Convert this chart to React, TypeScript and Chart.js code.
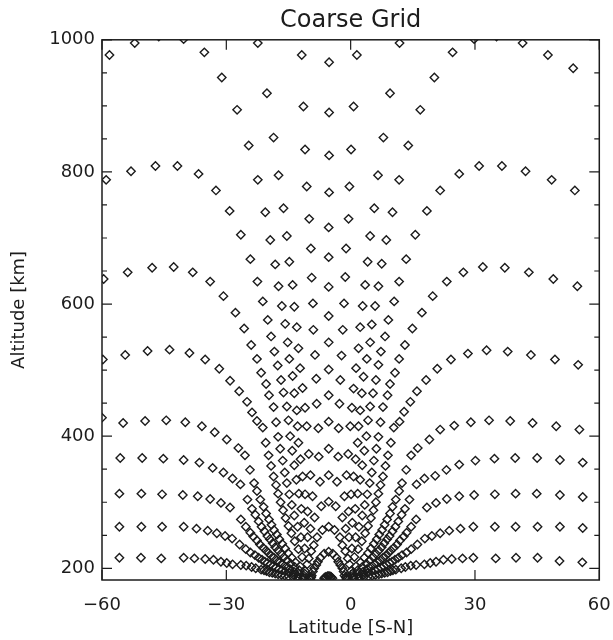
import React, { useEffect, useRef } from 'react';
import { Chart, registerables } from 'chart.js';
Chart.register(...registerables);

// ---- axis ticks ----
const xTicks = [-60, -30, 0, 30, 60];
const yTicks = [200, 400, 600, 800, 1000];
const yMinor = [250, 300, 350, 450, 500, 550, 650, 700, 750, 850, 900, 950];

// ---- grid points [latitude deg, altitude km], read/ ----
// south-side index lines (closest to the magnetic equator first)
const sA2 = [[-11.8,977],[-11.4,899],[-11.0,834],[-10.6,778],[-10.0,729],[-9.6,684],[-9.4,640],[-9.1,601],[-9.0,561],[-8.6,523],[-8.3,487],[-8.2,449],[-7.8,412],[-7.7,369],[-7.4,331],[-7.1,294],[-6.8,258],[-6.4,222],[-5.6,188]];
const sA1 = [[-22.4,995],[-20.2,919],[-18.6,852],[-17.4,795],[-16.2,745],[-15.4,703],[-14.8,664],[-14.0,629],[-13.6,596],[-13.0,565],[-12.6,533],[-12.2,503],[-11.6,473],[-11.0,443],[-10.6,415],[-10.1,373],[-9.7,341],[-9.2,309],[-8.7,277],[-8.1,247],[-7.3,216],[-6.0,187]];
const sA = [[-58.2,977],[-52.1,995],[-46.3,1005],[-40.3,1001],[-35.3,981],[-31.1,943],[-27.4,894],[-24.6,840],[-22.4,788],[-20.6,739],[-19.4,697],[-18.2,660],[-17.4,627],[-16.6,597],[-15.8,570],[-15.2,542],[-14.8,517],[-14.0,491],[-13.6,465],[-13.0,439],[-12.8,415],[-12.6,390],[-12.1,365],[-11.6,339],[-11.0,312],[-10.4,286],[-9.7,260],[-8.9,235],[-7.9,210],[-6.2,186]];
const sB = [[-59.0,788],[-53.0,801],[-47.1,809],[-41.8,809],[-36.7,797],[-32.5,772],[-29.2,741],[-26.5,705],[-24.2,668],[-22.5,634],[-21.2,604],[-20.0,576],[-19.2,551],[-18.4,528],[-17.6,507],[-16.8,485],[-16.2,466],[-15.4,445],[-15.0,424],[-14.6,400],[-14.1,378],[-13.6,356],[-13.1,334],[-12.5,313],[-11.9,290],[-11.2,269],[-10.4,247],[-9.5,226],[-8.3,205],[-6.4,185]];
const sC = [[-59.6,638],[-53.8,648],[-47.9,655],[-42.7,656],[-38.1,648],[-33.9,634],[-30.7,612],[-27.8,587],[-25.7,563],[-24.0,538],[-22.6,517],[-21.6,496],[-20.4,479],[-19.7,462],[-18.6,444],[-18.0,421],[-17.5,399],[-17.0,381],[-16.4,363],[-15.9,345],[-15.4,329],[-14.8,312],[-14.2,296],[-13.6,280],[-12.8,263],[-12.0,247],[-11.1,230],[-10.1,215],[-8.8,200]];
const sD = [[-59.8,516],[-54.4,523],[-49.0,529],[-43.7,531],[-38.9,526],[-35.1,516],[-31.7,502],[-29.1,484],[-26.9,468],[-25.0,452],[-23.8,436],[-22.6,423],[-21.2,413],[-20.5,390],[-19.8,371],[-19.2,355],[-18.6,339],[-18.0,326],[-17.5,313],[-16.9,300],[-16.3,288],[-15.7,276],[-15.0,264],[-14.3,253],[-13.5,241],[-12.6,229],[-11.7,217],[-10.5,206],[-9.1,195]];
const sE = [[-60.0,428],[-54.9,420],[-49.6,423],[-44.5,424],[-39.9,421],[-35.9,415],[-32.8,406],[-29.9,395],[-27.1,382],[-25.5,371],[-24.3,349],[-23.3,329],[-22.6,317],[-21.8,304],[-21.0,293],[-20.4,283],[-19.7,274],[-19.1,266],[-18.5,258],[-17.8,251],[-17.2,244],[-16.5,237],[-15.8,230],[-15.1,223],[-14.2,216],[-13.3,209],[-12.2,203],[-11.0,196],[-9.4,189]];
const sF = [[-55.6,367],[-50.3,367],[-45.2,366],[-40.3,364],[-36.5,360],[-33.3,352],[-30.7,345],[-28.5,336],[-26.6,327],[-24.9,304],[-23.8,290],[-23.0,281],[-22.2,271],[-21.5,263],[-20.8,256],[-20.1,249],[-19.5,244],[-18.8,238],[-18.2,232],[-17.5,227],[-16.8,222],[-16.1,217],[-15.3,212],[-14.5,207],[-13.5,202],[-12.4,197],[-11.1,192],[-9.5,187]];
const sG = [[-55.8,313],[-50.5,313],[-45.5,312],[-40.5,311],[-36.9,309],[-33.9,305],[-31.3,299],[-29.1,292],[-26.5,274],[-25.3,263],[-24.2,254],[-23.5,248],[-22.6,242],[-21.9,236],[-21.1,231],[-20.4,227],[-19.8,223],[-19.2,219],[-18.5,216],[-17.8,212],[-17.1,209],[-16.4,206],[-15.6,202],[-14.7,199],[-13.7,195],[-12.6,192],[-11.3,189],[-9.6,186]];
const sH = [[-55.8,263],[-50.5,263],[-45.5,263],[-40.3,263],[-37.2,260],[-34.5,257],[-32.3,253],[-30.3,249],[-28.6,245],[-26.8,236],[-25.3,229],[-24.2,224],[-23.1,220],[-22.2,216],[-21.4,213],[-20.7,210],[-20.1,208],[-19.4,206],[-18.7,203],[-18.0,201],[-17.3,199],[-16.6,197],[-15.8,195],[-14.8,193],[-13.8,190],[-12.7,188],[-11.4,186],[-9.7,184]];
const sI = [[-55.8,216],[-50.6,216],[-45.7,215],[-40.3,216],[-37.7,215],[-35.1,214],[-33.1,213],[-31.3,210],[-29.9,208],[-28.5,206],[-26.5,205],[-25.2,204],[-23.9,202],[-22.9,200],[-21.6,198],[-20.9,197],[-20.3,196],[-19.6,194],[-18.9,193],[-18.2,192],[-17.5,191],[-16.7,190],[-15.9,189],[-15.0,188],[-13.9,187],[-12.8,185],[-11.5,184],[-9.8,183]];
// magnetic-equator column (field-line apexes)
const eq = [[-5.2,966],[-5.2,890],[-5.2,825],[-5.2,769],[-5.3,716],[-5.3,671],[-5.3,626],[-5.3,582],[-5.3,542],[-5.3,501],[-5.3,462],[-5.3,422],[-5.3,381],[-5.3,341],[-5.3,301],[-5.3,263],[-5.3,225],[-5.3,188]];
// north-side index lines
const nA2 = [[1.5,977],[0.7,899],[0.1,834],[-0.3,778],[-0.5,729],[-1.1,684],[-1.3,641],[-1.6,601],[-1.9,561],[-2.2,522],[-2.5,485],[-2.7,449],[-2.9,412],[-3.0,369],[-3.3,331],[-3.6,294],[-3.9,258],[-4.3,222],[-5.0,188]];
const nA1 = [[11.8,995],[9.5,919],[7.9,852],[6.6,795],[5.7,745],[4.7,703],[4.1,664],[3.5,629],[2.9,597],[2.3,565],[1.9,533],[1.3,503],[0.7,472],[0.3,443],[-0.1,415],[-0.6,373],[-1.0,341],[-1.5,309],[-2.0,277],[-2.6,247],[-3.4,216],[-4.7,187]];
const nA = [[53.7,957],[47.6,977],[41.5,995],[35.2,1005],[29.8,1001],[24.6,981],[20.2,943],[16.8,894],[13.9,840],[11.7,788],[10.1,739],[8.6,697],[7.5,661],[6.7,627],[5.9,597],[5.1,569],[4.7,542],[3.9,517],[3.1,490],[2.7,465],[2.3,439],[1.9,415],[1.7,390],[1.2,365],[0.7,339],[0.1,312],[-0.5,286],[-1.2,260],[-2.0,235],[-3.0,210],[-4.7,186]];
const nB = [[54.1,772],[48.5,788],[42.2,801],[36.5,809],[31.0,809],[26.2,797],[21.6,772],[18.4,741],[15.6,705],[13.4,668],[11.7,634],[10.5,604],[9.1,576],[8.3,551],[7.3,528],[6.7,508],[6.1,485],[5.4,465],[4.7,445],[4.2,424],[3.8,400],[3.3,378],[2.8,356],[2.3,334],[1.7,313],[1.1,290],[0.4,269],[-0.4,247],[-1.3,226],[-2.5,205],[-4.4,185]];
const nC = [[54.7,627],[48.9,638],[43.0,648],[37.2,655],[31.9,656],[27.2,648],[23.2,634],[19.8,612],[17.2,587],[14.9,563],[13.1,538],[11.7,517],[10.7,496],[9.5,479],[8.9,462],[7.8,444],[7.2,421],[6.7,399],[6.2,381],[5.6,363],[5.1,345],[4.6,329],[4.0,312],[3.4,296],[2.8,280],[2.0,263],[1.2,247],[0.3,230],[-0.7,215],[-2.0,200]];
const nD = [[54.9,508],[49.3,516],[43.5,523],[37.9,528],[32.8,530],[28.3,525],[24.2,516],[20.9,502],[18.2,485],[16.0,468],[14.4,452],[12.9,437],[11.8,422],[10.4,413],[9.7,390],[9.0,371],[8.4,355],[7.8,339],[7.2,326],[6.7,313],[6.1,300],[5.5,288],[4.9,276],[4.2,264],[3.5,253],[2.7,241],[1.8,229],[0.9,217],[-0.3,206],[-1.7,195]];
const nE = [[55.2,410],[49.6,415],[43.9,420],[38.5,423],[33.4,424],[29.0,421],[25.0,416],[21.6,410],[19.0,395],[16.2,382],[14.6,371],[13.4,349],[12.4,329],[11.7,317],[10.9,304],[10.1,293],[9.5,283],[8.8,274],[8.2,266],[7.6,258],[6.9,251],[6.3,244],[5.6,237],[4.9,230],[4.2,223],[3.3,216],[2.4,209],[1.3,203],[0.1,196],[-1.5,189]];
const nF = [[56.0,360],[50.5,364],[45.0,367],[39.7,367],[34.7,366],[30.1,363],[26.2,357],[23.1,349],[20.4,340],[17.8,336],[15.9,327],[14.2,304],[13.1,290],[12.3,281],[11.5,271],[10.8,263],[10.1,256],[9.4,249],[8.8,244],[8.1,238],[7.5,232],[6.8,227],[6.1,222],[5.4,217],[4.6,212],[3.8,207],[2.8,202],[1.7,197],[0.4,192],[-1.2,187]];
const nG = [[56.0,308],[50.5,311],[44.9,313],[39.8,313],[34.8,312],[29.8,311],[26.2,309],[23.2,305],[20.6,299],[18.4,292],[15.8,274],[14.6,263],[13.5,254],[12.8,248],[11.9,242],[11.2,236],[10.4,231],[9.7,227],[9.1,223],[8.5,219],[7.8,216],[7.1,212],[6.4,209],[5.7,206],[4.9,202],[4.0,199],[3.0,195],[1.9,192],[0.6,189],[-1.1,186]];
const nH = [[56.0,261],[50.5,263],[45.1,263],[39.8,263],[34.8,263],[29.6,263],[26.5,260],[23.8,257],[21.6,253],[19.6,249],[17.9,245],[16.1,236],[14.6,229],[13.5,224],[12.4,220],[11.5,216],[10.7,213],[10.0,210],[9.4,208],[8.7,206],[8.0,203],[7.3,201],[6.6,199],[5.9,197],[5.1,195],[4.1,193],[3.1,190],[2.0,188],[0.7,186],[-1.0,184]];
const nI = [[55.9,209],[50.4,211],[45.1,216],[39.9,216],[35.0,215],[29.6,216],[27.0,215],[24.4,214],[22.4,213],[20.6,210],[19.2,208],[17.8,206],[15.8,205],[14.5,204],[13.2,202],[12.2,200],[10.9,198],[10.2,197],[9.6,196],[8.9,194],[8.2,193],[7.5,192],[6.8,191],[6.0,190],[5.2,189],[4.3,188],[3.2,187],[2.1,185],[0.8,184],[-0.9,183]];

const rows = [sA2, sA1, sA, sB, sC, sD, sE, sF, sG, sH, sI, eq, nA2, nA1, nA, nB, nC, nD, nE, nF, nG, nH, nI];

const INK = '#1c1c1c';
const FONT = 'DejaVu Sans';

export default function App() {
  const ref = useRef<HTMLCanvasElement>(null);
  useEffect(() => {
    if (!ref.current) return;
    const framePlugin = {
      id: 'frame',
      afterDatasetsDraw(chart: any) {
        const { ctx, chartArea: a, scales } = chart;
        const x = scales.x, y = scales.y;
        ctx.save();
        ctx.strokeStyle = INK;
        ctx.lineWidth = 1.5;
        ctx.strokeRect(a.left, a.top, a.right - a.left, a.bottom - a.top);
        ctx.lineWidth = 1.2;
        ctx.beginPath();
        for (const v of xTicks) {
          const px = x.getPixelForValue(v);
          ctx.moveTo(px, a.bottom); ctx.lineTo(px, a.bottom - 10);
          ctx.moveTo(px, a.top); ctx.lineTo(px, a.top + 10);
        }
        const ys = [...yTicks.map((v) => [v, 10]), ...yMinor.map((v) => [v, 5])];
        for (const [v, len] of ys) {
          const py = y.getPixelForValue(v);
          ctx.moveTo(a.left, py); ctx.lineTo(a.left + len, py);
          ctx.moveTo(a.right, py); ctx.lineTo(a.right - len, py);
        }
        ctx.stroke();
        ctx.restore();
      },
    };
    const chart = new Chart(ref.current, {
      type: 'scatter',
      data: {
        datasets: rows.map((r) => ({
          data: r.map(([lat, alt]) => ({ x: lat, y: alt })),
          pointStyle: 'rectRot',
          pointRadius: 4.2,
          pointBorderWidth: 1.4,
          borderColor: INK,
          backgroundColor: 'rgba(0,0,0,0)',
          showLine: false,
          clip: 0,
        })),
      },
      options: {
        animation: false,
        responsive: false,
        events: [],
        layout: { padding: { left: 0, right: 13.7, top: 0, bottom: 0 } },
        plugins: {
          legend: { display: false },
          tooltip: { enabled: false },
          title: {
            display: true,
            text: 'Coarse Grid',
            fullSize: false,
            color: INK,
            font: { family: FONT, size: 24, weight: 'normal' },
            padding: { top: 6, bottom: 5 },
          },
        },
        scales: {
          x: {
            type: 'linear',
            min: -60,
            max: 60,
            afterBuildTicks: (s: any) => { s.ticks = xTicks.map((v) => ({ value: v })); },
            afterFit: (s: any) => { s.height = 60; s.paddingLeft = 0; s.paddingRight = 0; },
            ticks: {
              color: INK,
              font: { family: FONT, size: 18 },
              padding: 15,
              maxRotation: 0,
              callback: (v: any) => (Number(v) < 0 ? '\u2212' + Math.abs(Number(v)) : String(v)),
            },
            grid: { display: false, drawTicks: false },
            border: { display: false },
            title: { display: true, text: 'Latitude [S-N]', color: INK, font: { family: FONT, size: 18 }, padding: { top: 0, bottom: 1 } },
          },
          y: {
            type: 'linear',
            min: 182.3,
            max: 1000,
            afterBuildTicks: (s: any) => { s.ticks = yTicks.map((v) => ({ value: v })); },
            afterFit: (s: any) => { s.width = 102; s.paddingTop = 0; s.paddingBottom = 0; },
            ticks: { color: INK, font: { family: FONT, size: 18 }, padding: 7, callback: (v: any) => String(v) },
            grid: { display: false, drawTicks: false },
            border: { display: false },
            title: { display: true, text: 'Altitude [km]', color: INK, font: { family: FONT, size: 18 }, padding: { top: 9, bottom: 0 } },
          },
        },
      },
      plugins: [framePlugin],
    } as any);
    return () => chart.destroy();
  }, []);
  return (
    <div style={{ position: 'fixed', left: 0, top: 0, width: 613, height: 640, background: '#fff' }}>
      <canvas ref={ref} width={613} height={640} style={{ width: 613, height: 640, display: 'block' }} />
    </div>
  );
}
